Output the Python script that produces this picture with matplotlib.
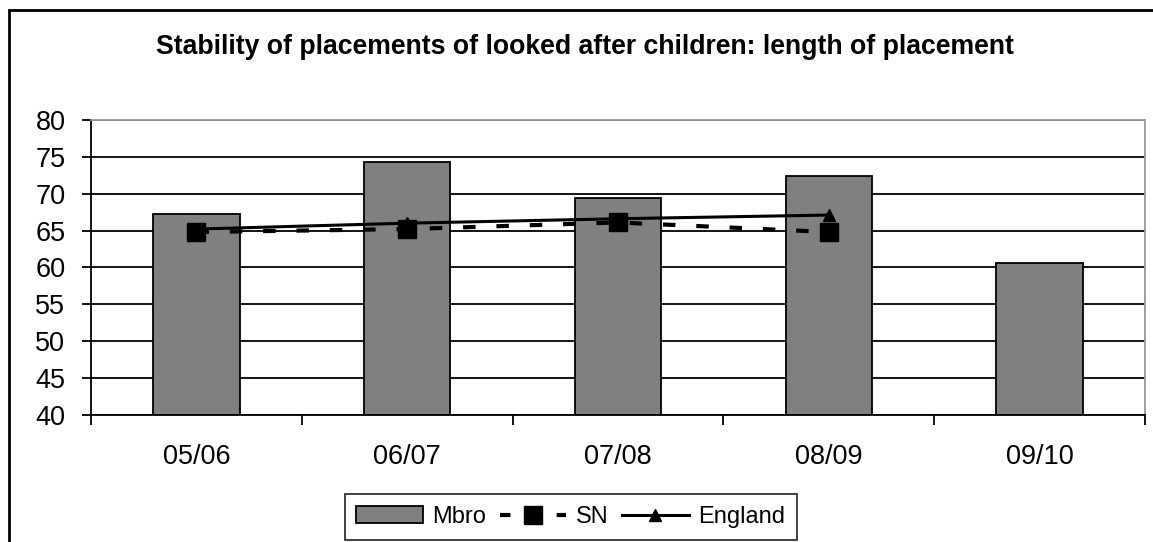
import numpy as np
import matplotlib.pyplot as plt
from matplotlib.patches import Rectangle
from matplotlib.lines import Line2D

plt.rcParams['font.family'] = ['Liberation Sans', 'DejaVu Sans']

years = ['05/06', '06/07', '07/08', '08/09', '09/10']
mbro = [67.3, 74.3, 69.4, 72.4, 60.6]
sn = [64.8, 65.2, 66.1, 64.8]
england = [65.2, 66.0, 66.6, 67.1]

fig = plt.figure(figsize=(11.53, 5.42), dpi=100)
# chart area border (only left and top edges fall inside the image)
fig.patches.append(Rectangle((0.008, -0.05), 1.1, 1.032, transform=fig.transFigure,
                             fill=False, edgecolor='black', linewidth=2))
ax = fig.add_axes([0.079, 0.234, 0.914, 0.545])

x = np.arange(len(years))
bars = ax.bar(x, [v - 40 for v in mbro], bottom=40, width=0.41, color='#808080',
              edgecolor='black', linewidth=1.3, label='Mbro', zorder=2)
ax.plot(x[:len(sn)], sn, color='black', linestyle=(0, (3, 5)), linewidth=3,
        marker='s', markersize=12.5, label='SN', zorder=3)
l_eng, = ax.plot(x[:len(england)], england, color='black', linestyle='-', linewidth=2.2,
                 marker='^', markersize=9, label='England', zorder=4)

ax.set_xlim(-0.5, 4.5)
ax.set_ylim(40, 80)
ax.set_yticks(range(40, 81, 5))
ax.yaxis.grid(True, color='black', linewidth=1.3, zorder=0)
ax.set_axisbelow(True)
ax.set_xticks(x)
ax.set_xticklabels(years)
ax.set_xticks(np.arange(-0.5, 4.6, 1), minor=True)
ax.tick_params(axis='x', which='major', length=0, pad=21, labelsize=19.5)
ax.tick_params(axis='x', which='minor', length=7, width=1.3, direction='out')
ax.tick_params(axis='y', length=6.5, width=1.3, labelsize=19.5, pad=12)
ax.spines['top'].set_color('#999999')
ax.spines['top'].set_linewidth(1.3)
ax.spines['right'].set_color('#999999')
ax.spines['right'].set_linewidth(1.3)
ax.spines['left'].set_linewidth(1.3)
ax.spines['bottom'].set_linewidth(1.3)

fig.text(0.507, 0.913, 'Stability of placements of looked after children: length of placement',
         ha='center', va='center', fontsize=19.2, fontweight='bold')

# legend proxy for SN so the dashes sit evenly either side of the square
sn_handle = Line2D([], [], color='black', linestyle=(0, (2.5, 4.3)), linewidth=3,
                   marker='s', markersize=12.5)
leg = fig.legend([bars, sn_handle, l_eng], ['Mbro', 'SN', 'England'],
                 loc='lower center', bbox_to_anchor=(0.495, 0.004), ncol=3, fontsize=17,
                 frameon=True, fancybox=False, edgecolor='black', handlelength=2.8,
                 handletextpad=0.4, columnspacing=0.6, borderpad=0.5, borderaxespad=0)
leg.get_frame().set_linewidth(1.3)

fig.savefig('out.png', dpi=100)
